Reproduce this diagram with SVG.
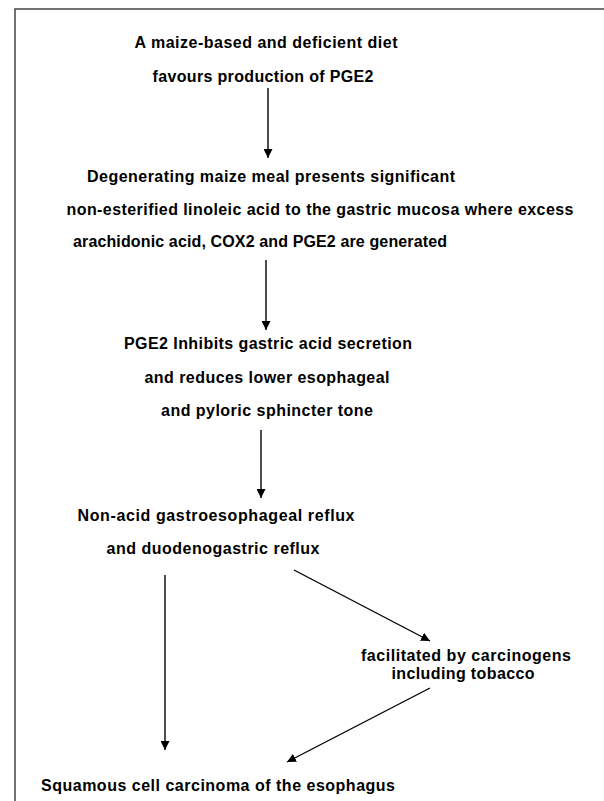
<svg xmlns="http://www.w3.org/2000/svg" width="604" height="801" viewBox="0 0 604 801">
<defs>
<style>
text{font-family:"Liberation Sans",Arial,sans-serif;font-weight:bold;font-size:16px;fill:#000;text-anchor:middle}
.c{stroke:#000;stroke-width:1.4;fill:none;marker-end:url(#ah)}
</style>
<marker id="ah" viewBox="0 0 10 10" refX="10" refY="5" markerWidth="9" markerHeight="9" markerUnits="userSpaceOnUse" orient="auto">
<path d="M0,0L10,5L0,10z" fill="#000"/>
</marker>
</defs>
<rect width="604" height="801" fill="#fff"/>
<path d="M15,801V9H604" stroke="#444" stroke-width="1.5" fill="none"/>
<g id="n1"><text x="266" y="48" textLength="263" lengthAdjust="spacing">A maize-based and deficient diet</text><text x="263" y="82" textLength="221" lengthAdjust="spacing">favours production of PGE2</text></g>
<g id="n2"><text x="271" y="182" textLength="368" lengthAdjust="spacing">Degenerating maize meal presents significant</text><text x="320" y="215" textLength="507" lengthAdjust="spacing">non-esterified linoleic acid to the gastric mucosa where excess</text><text x="260" y="247" textLength="374" lengthAdjust="spacing">arachidonic acid, COX2 and PGE2 are generated</text></g>
<g id="n3"><text x="268" y="349" textLength="288" lengthAdjust="spacing">PGE2 Inhibits gastric acid secretion</text><text x="267" y="383" textLength="245" lengthAdjust="spacing">and reduces lower esophageal</text><text x="267" y="416" textLength="212" lengthAdjust="spacing">and pyloric sphincter tone</text></g>
<g id="n4"><text x="216" y="521" textLength="277" lengthAdjust="spacing">Non-acid gastroesophageal reflux</text><text x="213" y="554" textLength="213" lengthAdjust="spacing">and duodenogastric reflux</text></g>
<g id="n5"><text x="466" y="661" textLength="210" lengthAdjust="spacing">facilitated by carcinogens</text><text x="463" y="679" textLength="143" lengthAdjust="spacing">including tobacco</text></g>
<g id="n6"><text x="218" y="791" textLength="354" lengthAdjust="spacing">Squamous cell carcinoma of the esophagus</text></g>
<g id="connectors">
<line class="c" x1="268" y1="88" x2="268" y2="158"/>
<line class="c" x1="266" y1="260" x2="266" y2="330"/>
<line class="c" x1="261" y1="430" x2="261" y2="498"/>
<line class="c" x1="165" y1="575" x2="165" y2="750"/>
<line class="c" x1="294" y1="570" x2="430" y2="641"/>
<line class="c" x1="430" y1="688" x2="287" y2="762"/>
</g>
</svg>
